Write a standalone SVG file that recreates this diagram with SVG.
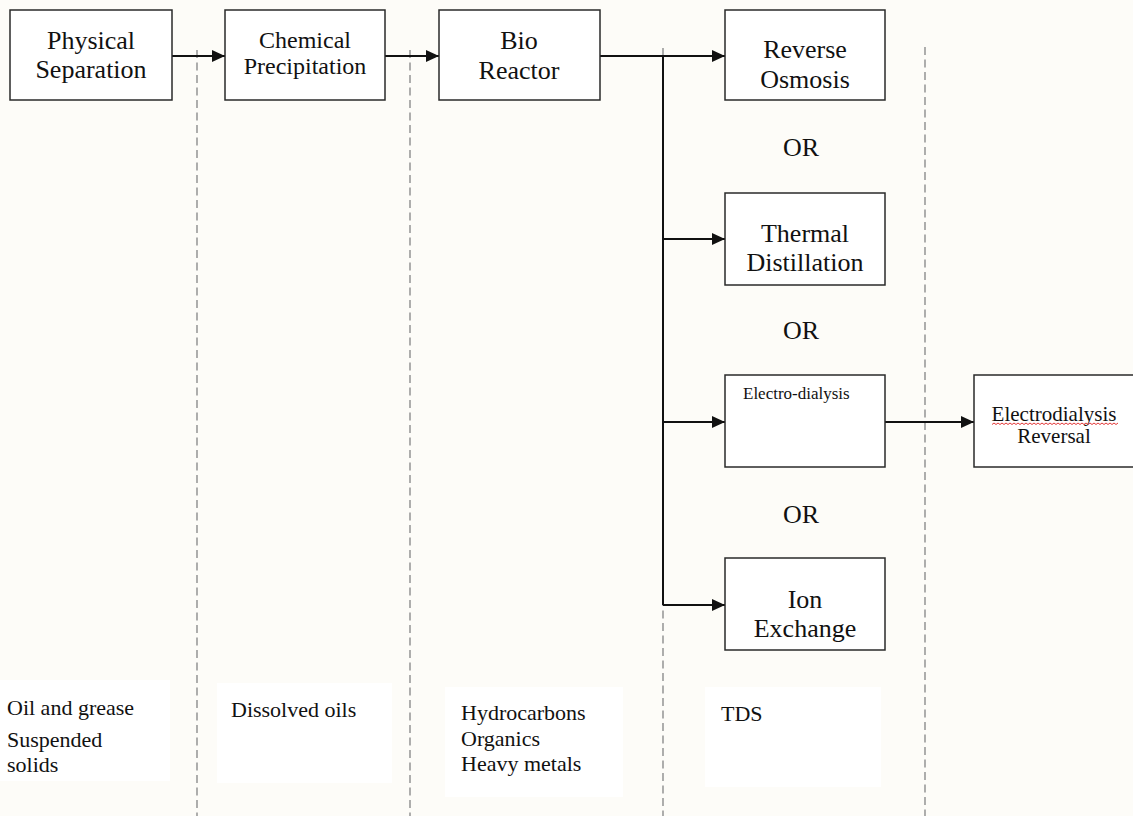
<svg xmlns="http://www.w3.org/2000/svg" width="1133" height="816" viewBox="0 0 1133 816">
<defs>
<style>
.node rect{fill:#fff;stroke:#2a2a2a;stroke-width:1.5}
.t{font-family:"Liberation Serif","Times New Roman",serif;fill:#111}
.big{font-size:26px}
.mid{font-size:24px}
.sm{font-size:22px}
.conn line{stroke:#111;stroke-width:2}
.dash line{stroke:#9a9a9a;stroke-width:1.6;stroke-dasharray:8 4.5}
.note{fill:#fff}
</style>
<marker id="ah" viewBox="0 0 13 12" refX="13" refY="6" markerWidth="13" markerHeight="12" markerUnits="userSpaceOnUse" orient="auto">
<path d="M0,0 L13,6 L0,12 z" fill="#111"/>
</marker>
</defs>
<rect width="1133" height="816" fill="#fdfcf8"/>

<g id="notes">
<rect class="note" x="0" y="680" width="170" height="101"/>
<rect class="note" x="217" y="683" width="175" height="100"/>
<rect class="note" x="445" y="687" width="178" height="110"/>
<rect class="note" x="705" y="687" width="176" height="100"/>
</g>

<g id="dividers" class="dash">
<line x1="197" y1="50" x2="197" y2="816"/>
<line x1="410" y1="50" x2="410" y2="816"/>
<line x1="663" y1="48" x2="663" y2="816"/>
<line x1="925" y1="47" x2="925" y2="816"/>
</g>

<g id="connectors" class="conn">
<line x1="172" y1="56" x2="225" y2="56" marker-end="url(#ah)"/>
<line x1="385" y1="56" x2="439" y2="56" marker-end="url(#ah)"/>
<line x1="600" y1="56" x2="725" y2="56" marker-end="url(#ah)"/>
<line x1="663" y1="56" x2="663" y2="605"/>
<line x1="663" y1="239" x2="725" y2="239" marker-end="url(#ah)"/>
<line x1="663" y1="422" x2="725" y2="422" marker-end="url(#ah)"/>
<line x1="663" y1="605" x2="725" y2="605" marker-end="url(#ah)"/>
<line x1="885" y1="422" x2="974" y2="422" marker-end="url(#ah)"/>
</g>

<g id="physical-separation" class="node">
<rect x="10" y="10" width="162" height="90"/>
<text class="t big" x="91" y="49" text-anchor="middle">Physical</text>
<text class="t big" x="91" y="78" text-anchor="middle">Separation</text>
</g>

<g id="chemical-precipitation" class="node">
<rect x="225" y="10" width="160" height="90"/>
<text class="t mid" x="305" y="48" text-anchor="middle">Chemical</text>
<text class="t mid" x="305" y="74" text-anchor="middle">Precipitation</text>
</g>

<g id="bio-reactor" class="node">
<rect x="439" y="10" width="161" height="90"/>
<text class="t big" x="519" y="49" text-anchor="middle">Bio</text>
<text class="t big" x="519" y="79" text-anchor="middle">Reactor</text>
</g>

<g id="reverse-osmosis" class="node">
<rect x="725" y="10" width="160" height="90"/>
<text class="t big" x="805" y="58" text-anchor="middle">Reverse</text>
<text class="t big" x="805" y="88" text-anchor="middle">Osmosis</text>
</g>

<g id="or1"><text class="t big" x="801" y="156" text-anchor="middle">OR</text></g>

<g id="thermal-distillation" class="node">
<rect x="725" y="193" width="160" height="92"/>
<text class="t big" x="805" y="242" text-anchor="middle">Thermal</text>
<text class="t big" x="805" y="271" text-anchor="middle">Distillation</text>
</g>

<g id="or2"><text class="t big" x="801" y="339" text-anchor="middle">OR</text></g>

<g id="electro-dialysis" class="node">
<rect x="725" y="375" width="160" height="92"/>
<text class="t" x="743" y="399" font-size="17">Electro-dialysis</text>
</g>

<g id="or3"><text class="t big" x="801" y="523" text-anchor="middle">OR</text></g>

<g id="ion-exchange" class="node">
<rect x="725" y="558" width="160" height="92"/>
<text class="t big" x="805" y="608" text-anchor="middle">Ion</text>
<text class="t big" x="805" y="637" text-anchor="middle">Exchange</text>
</g>

<g id="electrodialysis-reversal" class="node">
<rect x="974" y="375" width="165" height="92"/>
<text class="t" x="1054" y="421" font-size="21" text-anchor="middle">Electrodialysis</text>
<path d="M992,424.5 l2,-1.5 l2,1.5 l2,-1.5 l2,1.5 l2,-1.5 l2,1.5 l2,-1.5 l2,1.5 l2,-1.5 l2,1.5 l2,-1.5 l2,1.5 l2,-1.5 l2,1.5 l2,-1.5 l2,1.5 l2,-1.5 l2,1.5 l2,-1.5 l2,1.5 l2,-1.5 l2,1.5 l2,-1.5 l2,1.5 l2,-1.5 l2,1.5 l2,-1.5 l2,1.5 l2,-1.5 l2,1.5 l2,-1.5 l2,1.5 l2,-1.5 l2,1.5 l2,-1.5 l2,1.5 l2,-1.5 l2,1.5 l2,-1.5 l2,1.5 l2,-1.5 l2,1.5 l2,-1.5 l2,1.5 l2,-1.5 l2,1.5 l2,-1.5 l2,1.5 l2,-1.5 l2,1.5 l2,-1.5 l2,1.5 l2,-1.5 l2,1.5 l2,-1.5 l2,1.5 l2,-1.5 l2,1.5 l2,-1.5 l2,1.5 l2,-1.5 l2,1.5 l2,-1.5" fill="none" stroke="#e02020" stroke-width="0.9"/>
<text class="t" x="1054" y="443" font-size="21" text-anchor="middle">Reversal</text>
</g>

<g id="note-texts">
<text class="t sm" x="7" y="715">Oil and grease</text>
<text class="t sm" x="7" y="747">Suspended</text>
<text class="t sm" x="7" y="772">solids</text>
<text class="t sm" x="231" y="717">Dissolved oils</text>
<text class="t sm" x="461" y="720">Hydrocarbons</text>
<text class="t sm" x="461" y="746">Organics</text>
<text class="t sm" x="461" y="771">Heavy metals</text>
<text class="t sm" x="721" y="721">TDS</text>
</g>
</svg>
